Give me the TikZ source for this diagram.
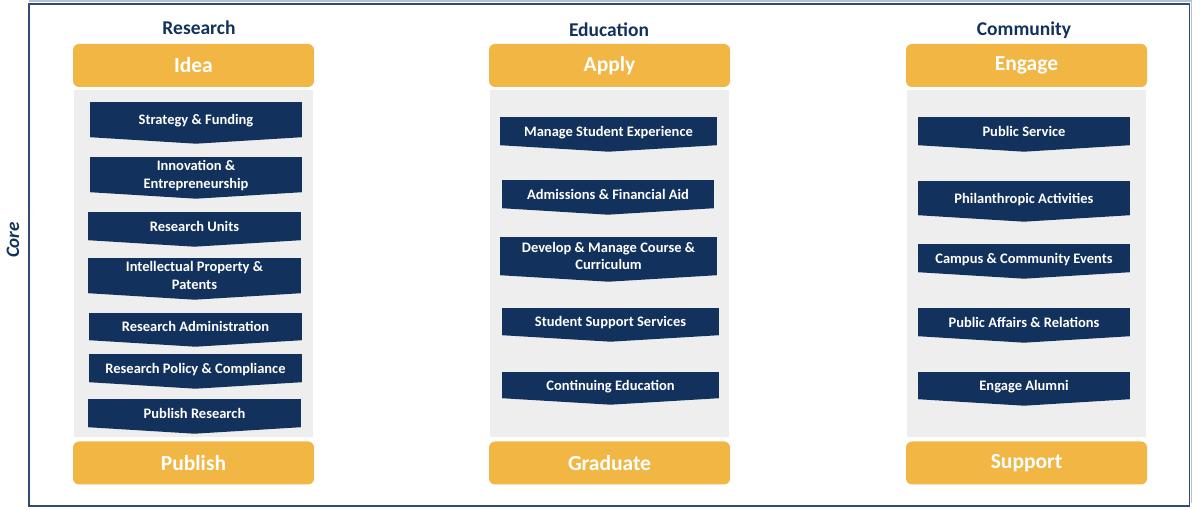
\documentclass[tikz,border=0pt]{standalone}
\usepackage{fontspec}
\setmainfont{Carlito}
\definecolor{navy}{HTML}{12325D}
\definecolor{gold}{HTML}{F2B644}
\definecolor{panel}{HTML}{EEEEEE}
\definecolor{framecol}{HTML}{2E4A75}
\tikzset{
  x=1pt, y=-1pt,
  heading/.style={text=navy, font=\fontsize{19.5}{22}\selectfont\bfseries},
  stage/.style={fill=gold, rounded corners=6pt, minimum width=241pt,
    minimum height=43pt, inner sep=0pt, text=white,
    font=\fontsize{21.5}{24}\selectfont\bfseries},
  chev/.style={fill=navy, text=white, inner sep=0pt, align=center,
    text depth=0pt, font=\fontsize{14.5}{17.5}\selectfont\bfseries},
}
\begin{document}
\begin{tikzpicture}
\useasboundingbox (0,0) rectangle (1200,510);
% frame
\draw[framecol!35, line width=1.2pt] (29,1) -- (1191.5,1) -- (1191.5,503);
\draw[framecol, line width=1.6pt] (29,4) rectangle (1189.5,506);
\node[rotate=90, text=navy, font=\fontsize{19}{22}\selectfont\bfseries\itshape] (core) at (13,240) {Core};
% panels
\fill[panel] (74,90) rectangle (313,437);
\fill[panel] (490,90) rectangle (729,437);
\fill[panel] (907,90) rectangle (1146,437);
% headings
\node[heading] (research) at (199,28) {Research};
\node[heading] (education) at (609,30) {Education};
\node[heading] (community) at (1024,30) {Community};
% stages
\node[stage] (idea) at (193.5,65.5) {Idea};
\node[stage] (publish) at (193.5,463) {Publish};
\node[stage] (apply) at (609.5,65.5) {Apply};
\node[stage] (graduate) at (609.5,463) {Graduate};
\node[stage] (engage) at (1026.5,65.5) {Engage};
\node[stage] (support) at (1026.5,463) {Support};
% research
\node[chev, minimum width=212pt, minimum height=35pt] (sf) at (196,119.5) {Strategy \& Funding};
\node[chev, minimum width=212pt, minimum height=35pt] (ie) at (196,174.5) {Innovation \&\\Entrepreneurship};
\node[chev, minimum width=213pt, minimum height=28pt] (ru) at (194.5,226) {Research Units};
\node[chev, minimum width=213pt, minimum height=35pt] (ip) at (194.5,275.5) {Intellectual Property \&\\Patents};
\node[chev, minimum width=213pt, minimum height=27pt] (ra) at (195.5,326.5) {Research Administration};
\node[chev, minimum width=213pt, minimum height=28pt] (rp) at (195.5,368) {Research Policy \& Compliance};
\node[chev, minimum width=213pt, minimum height=28pt] (pr) at (194.5,413) {Publish Research};
% education
\node[chev, minimum width=217pt, minimum height=28pt] (ms) at (608.5,131) {Manage Student Experience};
\node[chev, minimum width=212pt, minimum height=28pt] (af) at (608,194) {Admissions \& Financial Aid};
\node[chev, minimum width=217pt, minimum height=38pt] (dm) at (608.5,256) {Develop \& Manage Course \&\\Curriculum};
\node[chev, minimum width=217pt, minimum height=27pt] (ss) at (610.5,321.5) {Student Support Services};
\node[chev, minimum width=217pt, minimum height=26pt] (ce) at (610.5,385) {Continuing Education};
% community
\node[chev, minimum width=212pt, minimum height=28pt] (ps) at (1024,131) {Public Service};
\node[chev, minimum width=212pt, minimum height=34pt] (pa) at (1024,198) {Philanthropic Activities};
\node[chev, minimum width=212pt, minimum height=28pt] (cc) at (1024,258) {Campus \& Community Events};
\node[chev, minimum width=212pt, minimum height=28pt] (par) at (1024,322) {Public Affairs \& Relations};
\node[chev, minimum width=212pt, minimum height=27pt] (ea) at (1024,385.5) {Engage Alumni};
% chevron tips
\foreach \n in {sf,ie,ru,ip,ra,rp,pr,ms,af,dm,ss,ce,ps,pa,cc,par,ea}
  \fill[navy] (\n.south west) -- (\n.south east) -- ([yshift=-6.5pt]\n.south) -- cycle;
\end{tikzpicture}
\end{document}
